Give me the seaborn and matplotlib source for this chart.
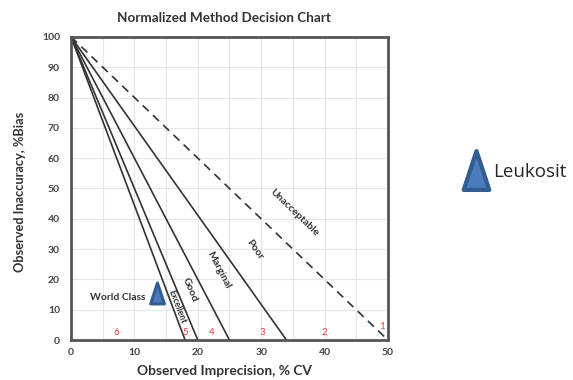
import numpy as np
import pandas as pd
import seaborn as sns
import matplotlib.pyplot as plt
from matplotlib.path import Path
from matplotlib.markers import MarkerStyle
from matplotlib.lines import Line2D

# Decision lines run from (0, 100) down to these CV intercepts
zones = ['Excellent', 'Good', 'Marginal', 'Poor', 'Unacceptable']
intercepts = [18, 20, 25, 34, 50]

# zone labels (x, y)
label_x = [16.7, 18.8, 23.2, 29.0, 35.3]
label_y = [11.0, 16.5, 23.0, 29.7, 42.0]

# sigma numbers along the bottom
sigma_text = ['6', '5', '4', '3', '2', '1']
sigma_x = [7.1, 18.1, 22.2, 30.2, 39.9, 49.1]
sigma_y = [2.6, 2.6, 2.6, 2.6, 2.6, 4.6]

# the observed method
point_name = 'Leukosit'
point_cv = [13.6]
point_bias = [15.5]

rows = []
for z, c in zip(zones, intercepts):
    rows.append({'zone': z, 'cv': 0, 'bias': 100})
    rows.append({'zone': z, 'cv': c, 'bias': 0})
df = pd.DataFrame(rows)
df_pt = pd.DataFrame({'cv': point_cv, 'bias': point_bias, 'name': point_name})

sns.set_style('white')
plt.rcParams['font.family'] = ['Lato', 'DejaVu Sans']

fig = plt.figure(figsize=(5.73, 3.8), dpi=100)
ax = fig.add_axes([0.124, 0.105, 0.553, 0.798])

for z in zones:
    sub = df[df['zone'] == z]
    sns.lineplot(data=sub, x='cv', y='bias', ax=ax, color='#333333', lw=1.2,
                 linestyle='--' if z == 'Unacceptable' else '-',
                 legend=False, sort=False)
for l in ax.lines:
    if l.get_linestyle() == '--':
        l.set_dashes((5, 3.5))

tri = Path([(-0.33, -0.5), (0, 0.5), (0.33, -0.5), (-0.33, -0.5)],
           [Path.MOVETO, Path.LINETO, Path.LINETO, Path.CLOSEPOLY])
mk = MarkerStyle(tri, joinstyle='round')
ax.plot(df_pt['cv'], df_pt['bias'], linestyle='none', marker=mk, markersize=15,
        markerfacecolor='#4a7cbd', markeredgecolor='#345d8f', markeredgewidth=2.2,
        zorder=5)

ax.set_xlim(0, 50)
ax.set_ylim(0, 100)
ax.set_xticks(range(0, 51, 10))
ax.set_yticks(range(0, 101, 10))
ax.set_xticks(range(0, 51, 5), minor=True)
ax.grid(True, which='both', color='#e6e6e6', lw=0.8)
ax.set_axisbelow(True)
ax.tick_params(axis='both', which='major', labelsize=7.5, length=5, width=1,
               color='#555555', labelcolor='#444444', direction='out', pad=3)
ax.tick_params(axis='x', which='major', length=0, pad=6)
ax.tick_params(axis='x', which='minor', length=0)
for lab in ax.get_xticklabels() + ax.get_yticklabels():
    lab.set_fontweight('bold')
for s in ax.spines.values():
    s.set_color('#555555')
    s.set_linewidth(2)

ax.set_xlabel('Observed Imprecision, % CV', fontsize=9.9, fontweight='bold',
              color='#333333')
ax.set_ylabel('Observed Inaccuracy, %Bias', fontsize=9.2, fontweight='bold',
              color='#333333')
ax.xaxis.set_label_coords(0.483, -0.083)
ax.yaxis.set_label_coords(-0.1435, 0.488)
ax.set_title('Normalized Method Decision Chart', fontsize=9.7, fontweight='bold',
             color='#333333', pad=11, x=0.481)

# rotate zone labels along their lines in screen space
fig.canvas.draw()
for z, c, lx, ly in zip(zones, intercepts, label_x, label_y):
    p0 = ax.transData.transform((0, 100))
    p1 = ax.transData.transform((c, 0))
    ang = np.degrees(np.arctan2(p1[1] - p0[1], p1[0] - p0[0]))
    fs = 6.3 if z == 'Excellent' else 7.5
    ax.text(lx, ly, z, rotation=ang, rotation_mode='anchor', ha='center',
            va='center', fontsize=fs, fontweight='bold', color='#333333')
ax.text(7.4, 14.2, 'World Class', fontsize=7.5, fontweight='bold',
        color='#333333', ha='center', va='center')

for t, x, y in zip(sigma_text, sigma_x, sigma_y):
    ax.text(x, y, t, color='#f03c3c', fontsize=7, ha='center', va='center')

handle = Line2D([], [], linestyle='none', marker=mk, markersize=28,
                markerfacecolor='#4a7cbd', markeredgecolor='#345d8f',
                markeredgewidth=3)
fig.legend([handle], [point_name], loc='center left',
           bbox_to_anchor=(0.782, 0.548), frameon=False, handlelength=1.2,
           handletextpad=0.3, prop={'family': 'Open Sans', 'size': 13.5})

fig.savefig('out.png', dpi=100)
